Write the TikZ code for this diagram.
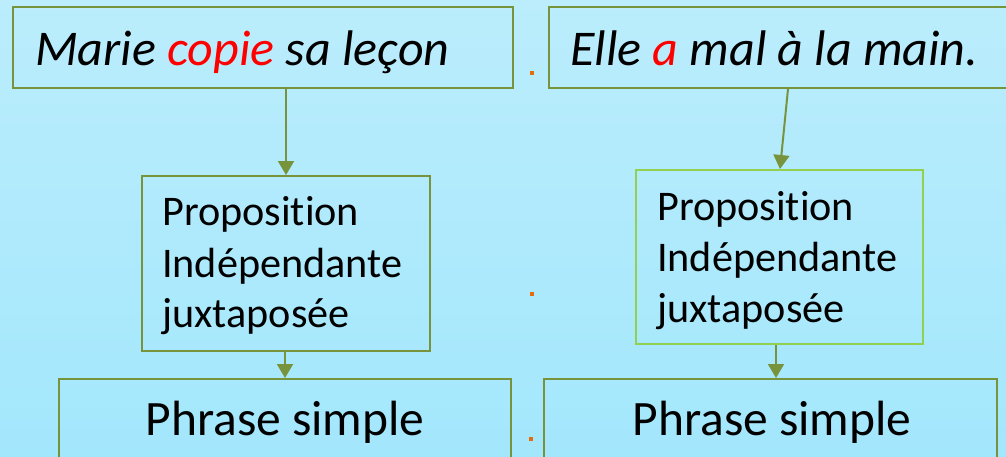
\documentclass[tikz,border=0pt]{standalone}
\usepackage{fontspec}
\setmainfont[Ligatures={NoCommon}]{Carlito}
\usetikzlibrary{arrows.meta}
\definecolor{olive}{RGB}{119,147,60}
\definecolor{lgreen}{RGB}{146,208,80}
\definecolor{bgtop}{RGB}{187,237,252}
\definecolor{bgbot}{RGB}{163,231,252}
\definecolor{dotor}{RGB}{228,108,10}
\tikzset{
  box/.style={draw=olive, line width=2pt, rectangle, inner sep=0pt},
  txt/.style={anchor=base west, inner sep=0pt, text=black},
  arr/.style={draw=olive, line width=2pt, -{Triangle[width=16pt,length=14pt]}},
  dotmark/.style={fill=dotor, rectangle, inner sep=0pt, minimum size=4pt},
  bigit/.style={font=\fontsize{50}{60}\selectfont\itshape},
  mid/.style={font=\fontsize{42.2}{51}\selectfont},
  bottom/.style={anchor=base, inner sep=0pt, font=\fontsize{49.5}{60}\selectfont},
}
\begin{document}
\begin{tikzpicture}[x=1pt,y=-1pt]
\useasboundingbox (0,0) rectangle (1006,456);
\clip (0,0) rectangle (1006,456);
\shade[top color=bgtop, bottom color=bgbot] (0,0) rectangle (1006,456);
% boxes
\node[box, minimum width=500pt, minimum height=81pt] (b1) at (263,47.5) {};
\node[box, minimum width=458pt, minimum height=81pt] (b2) at (778,47.5) {};
\node[box, minimum width=288pt, minimum height=175pt] (b3) at (286,263.5) {};
\node[box, draw=lgreen, minimum width=287pt, minimum height=174pt] (b4) at (779.5,257) {};
\node[box, minimum width=452pt, minimum height=120pt] (b5) at (285,439) {};
\node[box, minimum width=453pt, minimum height=120pt] (b6) at (770.5,439) {};
% texts
\node[txt, bigit] (t1) at (35,65) {Marie \textcolor{red}{copie} sa leçon};
\node[txt, bigit] (t2) at (570,65) {Elle \textcolor{red}{a} mal à la main.};
\node[txt, mid] (t3a) at (162,225) {Proposition};
\node[txt, mid] (t3b) at (162,277) {Indépendante};
\node[txt, mid] (t3c) at (162,327) {juxtaposée};
\node[txt, mid] (t4a) at (657,220) {Proposition};
\node[txt, mid] (t4b) at (657,271) {Indépendante};
\node[txt, mid] (t4c) at (657,322) {juxtaposée};
\node[bottom] (t5) at (285,435) {Phrase simple};
\node[bottom] (t6) at (772,435) {Phrase simple};
% dots
\node[dotmark] (d1) at (532,73) {};
\node[dotmark] (d2) at (532,294) {};
\node[dotmark] (d3) at (531,439) {};
% connectors
\draw[arr] (b3.north |- b1.south) -- (b3.north);
\draw[arr] (b3.south -| b5.north) -- (b5.north);
\draw[arr] ([xshift=10pt]b2.south) -- ([xshift=0.5pt]b4.north);
\draw[arr] ([xshift=-3.5pt]b4.south) -- ([xshift=5.5pt]b6.north);
\end{tikzpicture}
\end{document}
